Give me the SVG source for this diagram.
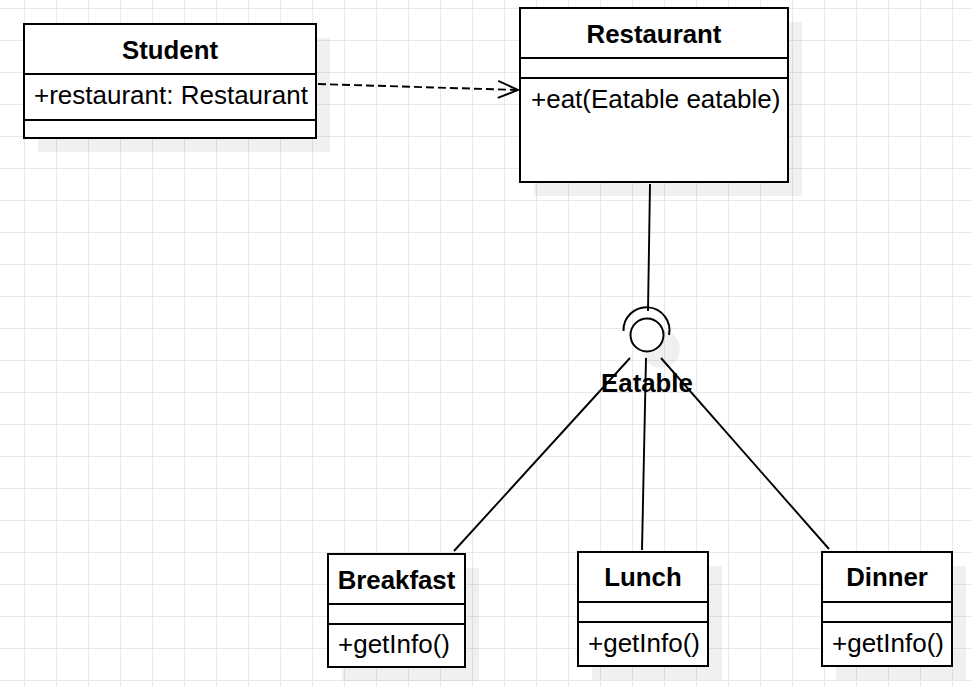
<svg xmlns="http://www.w3.org/2000/svg" width="972" height="686" viewBox="0 0 972 686">
  <defs>
    <pattern id="grid" x="24" y="8" width="32" height="32" patternUnits="userSpaceOnUse">
      <path d="M0 0.5H32M0.5 0V32" fill="none" stroke="#e9e9e9" stroke-width="1"/>
    </pattern>
    <marker id="open" markerWidth="24" markerHeight="20" refX="21" refY="10" orient="auto" markerUnits="userSpaceOnUse">
      <path d="M1 1.5L21 10L1 18.5" fill="none" stroke="#000" stroke-width="1.9"/>
    </marker>
  </defs>
  <style>
    .box{fill:#fff;stroke:#000;stroke-width:2}
    .div{stroke:#000;stroke-width:2}
    .shadow{fill:#000;fill-opacity:0.06}
    .title{font-family:"Liberation Sans",Arial,sans-serif;font-weight:bold;font-size:25.8px;text-anchor:middle}
    .item{font-family:"Liberation Sans",Arial,sans-serif;font-size:26px}
    .conn{fill:none;stroke:#000;stroke-width:1.9}
  </style>
  <rect width="972" height="686" fill="#fff"/>
  <rect width="972" height="686" fill="url(#grid)"/>

  <g id="connectors">
    <path class="conn" d="M318 84L518 90" stroke-dasharray="8 4" marker-end="url(#open)"/>
    <path class="conn" d="M650 184L648 311"/>
    <path class="conn" d="M454 551L630 358"/>
    <path class="conn" d="M642 550L646 358"/>
    <path class="conn" d="M829 549L661 358"/>
  </g>

  <g id="student">
    <rect class="shadow" x="38" y="38" width="292" height="114"/>
    <rect class="box" x="24" y="24" width="292" height="114"/>
    <line class="div" x1="24" y1="74" x2="316" y2="74"/>
    <line class="div" x1="24" y1="120" x2="316" y2="120"/>
    <text class="title" x="170" y="58.5">Student</text>
    <text class="item" x="34" y="104">+restaurant: Restaurant</text>
  </g>

  <g id="restaurant">
    <rect class="shadow" x="534" y="22" width="268" height="174"/>
    <rect class="box" x="520" y="8" width="268" height="174"/>
    <line class="div" x1="520" y1="58" x2="788" y2="58"/>
    <line class="div" x1="520" y1="78" x2="788" y2="78"/>
    <text class="title" x="654" y="42.5">Restaurant</text>
    <text class="item" x="531" y="107.5">+eat(Eatable eatable)</text>
  </g>

  <g id="eatable">
    <circle class="shadow" cx="661" cy="349" r="19"/>
    <path d="M623.5 331A23 23 0 1 1 669 335" fill="none" stroke="#000" stroke-width="2"/>
    <circle cx="647" cy="335" r="16.5" fill="#fff" stroke="#000" stroke-width="2"/>
    <text class="title" x="647" y="391.5">Eatable</text>
  </g>

  <g id="breakfast">
    <rect class="shadow" x="342" y="568" width="137" height="113"/>
    <rect class="box" x="328" y="554" width="137" height="113"/>
    <line class="div" x1="328" y1="604" x2="465" y2="604"/>
    <line class="div" x1="328" y1="624" x2="465" y2="624"/>
    <text class="title" x="396.5" y="588.5">Breakfast</text>
    <text class="item" x="338" y="653">+getInfo()</text>
  </g>

  <g id="lunch">
    <rect class="shadow" x="592" y="566" width="130" height="114"/>
    <rect class="box" x="578" y="552" width="130" height="114"/>
    <line class="div" x1="578" y1="602" x2="708" y2="602"/>
    <line class="div" x1="578" y1="622" x2="708" y2="622"/>
    <text class="title" x="643" y="586">Lunch</text>
    <text class="item" x="588" y="652">+getInfo()</text>
  </g>

  <g id="dinner">
    <rect class="shadow" x="836" y="566" width="130" height="114"/>
    <rect class="box" x="822" y="552" width="130" height="114"/>
    <line class="div" x1="822" y1="602" x2="952" y2="602"/>
    <line class="div" x1="822" y1="622" x2="952" y2="622"/>
    <text class="title" x="887" y="586">Dinner</text>
    <text class="item" x="832" y="652">+getInfo()</text>
  </g>
</svg>
